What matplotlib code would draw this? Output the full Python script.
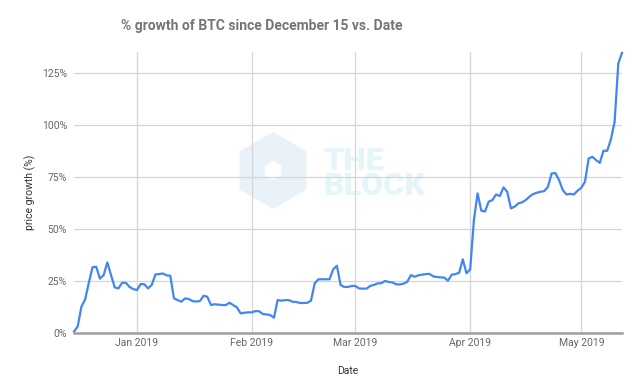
import numpy as np
import pandas as pd
import matplotlib
matplotlib.use("Agg")
import matplotlib.pyplot as plt
import matplotlib.dates as mdates
from matplotlib.patches import RegularPolygon
from matplotlib.transforms import IdentityTransform
from matplotlib.ticker import FuncFormatter

plt.rcParams['font.family'] = ['Roboto', 'DejaVu Sans']

# daily % growth since 2018-12-15
start_date = "2018-12-15"
growth = [
    0.5, 3, 12.5, 16, 24, 31.5, 31.7, 26, 27.7, 33.8,
    27.7, 21.8, 21.3, 24, 24, 22, 21, 20.5, 23.4, 23.3,
    21.3, 23, 28, 28.2, 28.5, 27.6, 27.4, 16.5, 15.7, 14.9,
    16.5, 16.2, 15.2, 15, 15.2, 17.8, 17.3, 13.3, 13.7, 13.5,
    13.3, 13.3, 14.4, 13.3, 12.2, 9.3, 9.6, 9.8, 9.8, 10.4,
    10.3, 9, 8.8, 8.5, 7.2, 15.7, 15.4, 15.7, 15.7, 14.9,
    14.8, 14.3, 14.3, 14.4, 15.4, 23.7, 25.7, 25.7, 25.7, 25.7,
    30.5, 32.2, 22.9, 22, 22, 22.5, 22.5, 21.3, 21.2, 21.2,
    22.5, 23, 23.7, 23.8, 24.9, 24.4, 24.2, 23.3, 23.2, 23.6,
    24.5, 27.7, 26.9, 27.6, 27.9, 28.2, 28.3, 27.1, 26.8, 26.6,
    26.5, 25, 27.9, 28.2, 28.8, 35.3, 28.6, 30.5, 54.2, 67,
    58.7, 58.3, 63, 63.8, 66.5, 65.7, 69.9, 67.8, 59.8, 60.6,
    62.2, 62.7, 63.8, 65.4, 66.7, 67.3, 67.8, 68.1, 70.2, 76.6,
    76.8, 73.4, 68.6, 66.5, 66.8, 66.5, 68.3, 69.7, 72.6, 83.8,
    84.6, 83, 81.7, 87.5, 87.5, 93, 101.4, 129.5, 134.6,
]
dates = pd.date_range(start_date, periods=len(growth), freq="D")
y_ticks = [0, 25, 50, 75, 100, 125]

fig = plt.figure(figsize=(6.39, 3.89), dpi=100)
ax = fig.add_axes([0.1158, 0.1447, 0.8576, 0.7216])

# faint "THE BLOCK" watermark
ax.add_patch(RegularPolygon((273, 389 - 170.5), 6, radius=38.5, transform=IdentityTransform(),
                            facecolor="#e9f1f9", edgecolor="none", zorder=0.2))
ax.add_patch(RegularPolygon((273, 389 - 170.5), 6, radius=9.5, transform=IdentityTransform(),
                            facecolor="white", edgecolor="none", zorder=0.3))
ax.text(323, 389 - 146, "THE\nBLOCK", transform=IdentityTransform(), ha="left", va="top",
        fontsize=23, fontweight="black", color="#e4f6f8", linespacing=0.8, zorder=0.2)

ax.plot(dates, growth, color="#4285f4", linewidth=1.6, zorder=3, clip_on=False)

ax.set_xlim(dates[0], dates[-1])
ax.set_ylim(0, 135)
ax.set_yticks(y_ticks)
ax.yaxis.set_major_formatter(FuncFormatter(lambda v, p: f"{v:.0f}%"))
ax.xaxis.set_major_locator(mdates.MonthLocator())
ax.xaxis.set_major_formatter(mdates.DateFormatter("%b %Y"))

ax.grid(True, color="#d6d6d6", linewidth=0.9)
ax.set_axisbelow(True)
for s in ["top", "right", "left"]:
    ax.spines[s].set_visible(False)
ax.spines["bottom"].set_color("#9e9e9e")
ax.spines["bottom"].set_linewidth(1.8)
ax.spines["bottom"].set_zorder(4)
ax.tick_params(length=0, labelsize=7.5, labelcolor="#666666")
ax.tick_params(axis="y", pad=5)
ax.tick_params(axis="x", pad=4)

ax.set_xlabel("Date", fontsize=7.5, color="#333333", labelpad=13)
ax.set_ylabel("price growth (%)", fontsize=7.5, color="#333333", labelpad=4)
fig.text(0.41, 1 - 26 / 389, "% growth of BTC since December 15 vs. Date", ha="center", va="center",
         fontsize=10, fontweight="bold", color="#757575")

fig.savefig("out.png", dpi=100)
